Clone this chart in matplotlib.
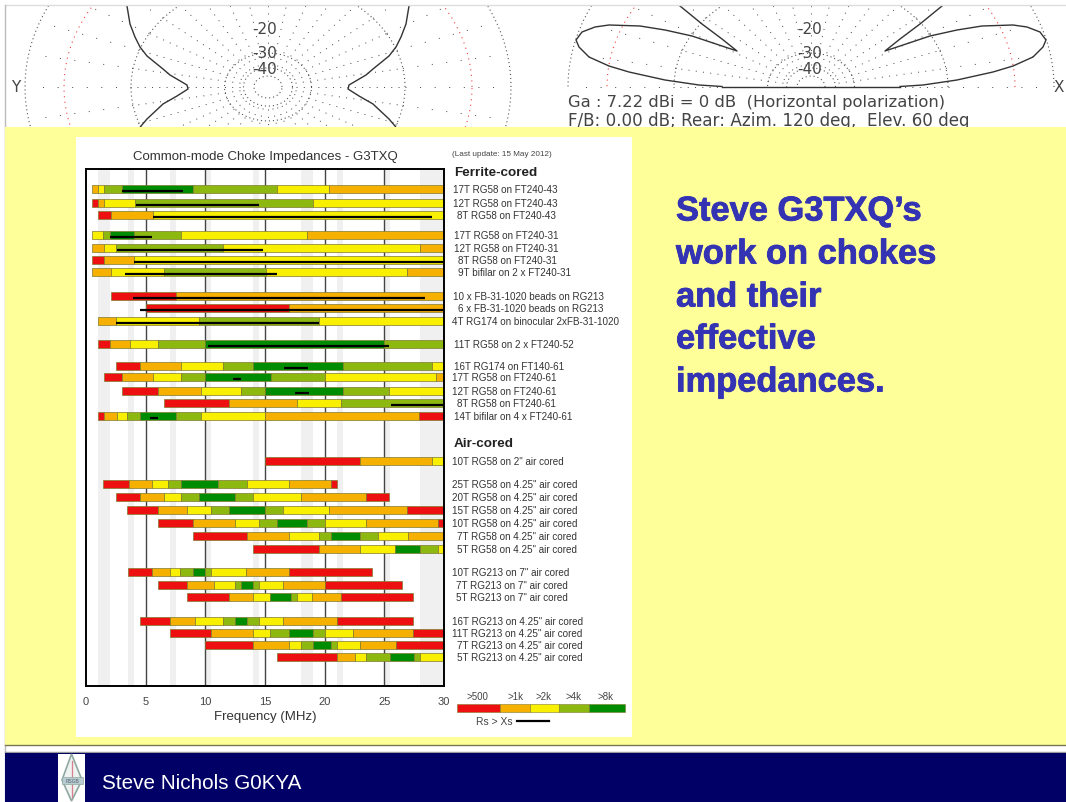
import numpy as np
import matplotlib
matplotlib.use('Agg')
import matplotlib.pyplot as plt
import matplotlib.patheffects as pe
from matplotlib.patches import Rectangle, Polygon

plt.rcParams['font.family'] = ['Liberation Sans', 'DejaVu Sans']

W, H = 1066, 803

# choke chart data
labels = ['17T RG58 on FT240-43', '12T RG58 on FT240-43', '8T RG58 on FT240-43',
          '17T RG58 on FT240-31', '12T RG58 on FT240-31', '8T RG58 on FT240-31', '9T bifilar on 2 x FT240-31',
          '10 x FB-31-1020 beads on RG213', '6 x FB-31-1020 beads on RG213', '4T RG174 on binocular 2xFB-31-1020',
          '11T RG58 on 2 x FT240-52',
          '16T RG174 on FT140-61', '17T RG58 on FT240-61', '12T RG58 on FT240-61', '8T RG58 on FT240-61',
          '14T bifilar on 4 x FT240-61',
          '10T RG58 on 2" air cored',
          '25T RG58 on 4.25" air cored', '20T RG58 on 4.25" air cored', '15T RG58 on 4.25" air cored',
          '10T RG58 on 4.25" air cored', '7T RG58 on 4.25" air cored', '5T RG58 on 4.25" air cored',
          '10T RG213 on 7" air cored', '7T RG213 on 7" air cored', '5T RG213 on 7" air cored',
          '16T RG213 on 4.25" air cored', '11T RG213 on 4.25" air cored', '7T RG213 on 4.25" air cored',
          '5T RG213 on 4.25" air cored']
row_y = [190, 204, 216, 236, 249, 261, 273, 297, 309, 322, 345, 367, 378, 392, 404, 417,
         462, 485, 498, 511, 524, 537, 550, 573, 586, 598, 622, 634, 646, 658]
label_indent = [1, 1, 5, 2, 2, 6, 6, 1, 6, 0, 2, 2, 0, 0, 5, 2, 0, 0, 0, 0, 0, 5, 5, 0, 4, 4, 0, 0, 5, 5]

edges = [[0.5, 1.0, 1.5, 3, 9, 16, 20.4, 30],
         [0.5, 1, 1.5, 4.1, 19, 30],
         [1, 2.1, 5.6, 30],
         [0.5, 1.4, 2, 4, 8, 18.5, 30],
         [0.5, 1.5, 2.5, 11.5, 28, 30],
         [0.5, 1.5, 4, 30],
         [0.5, 2.1, 6.5, 15.1, 26.9, 30],
         [2.1, 7.5, 30],
         [5, 17, 30],
         [1, 2.5, 9.5, 19.5, 30],
         [1, 2, 3.7, 6, 10, 25, 30],
         [2.5, 4.5, 8, 11.5, 14, 21.5, 29, 30],
         [1.5, 3, 5.6, 8, 10, 15.5, 20, 29.3, 30],
         [3, 6, 9.6, 13, 15, 21.5, 25.4, 30],
         [6.5, 12, 17.7, 21.4, 30],
         [1, 1.5, 2.6, 3.4, 4.5, 7.5, 9.6, 15, 27.9, 30],
         [15, 23, 29, 30],
         [1.4, 3.6, 5.5, 6.9, 8, 11.1, 13.5, 17, 20.5, 21],
         [2.5, 4.5, 6.5, 8, 9.5, 12.5, 14, 18, 23.5, 25.4],
         [3.4, 6, 8.5, 10.5, 12, 15, 16.5, 20.4, 26.9, 30],
         [6, 9, 12.5, 14.5, 16, 18.5, 20, 23.5, 29.5, 30],
         [9, 13.5, 17, 19.5, 20.5, 23, 24.5, 27, 30],
         [14, 19.5, 23, 25.9, 28, 29.5, 30],
         [3.5, 5.5, 7, 7.9, 9, 10, 10.5, 13.4, 17, 24],
         [6, 8.5, 10.7, 12.5, 13, 14, 14.5, 16.5, 20, 26.5],
         [8.5, 12, 14, 15.4, 17.2, 17.7, 18.9, 21.4, 27.4],
         [4.5, 7, 9.1, 11.5, 12.5, 13.5, 14.5, 16.5, 21, 27.4],
         [7, 10.5, 14, 15.4, 17, 19, 20, 22.4, 27.4, 30],
         [10, 14, 17, 18, 19, 20.5, 21, 23, 26, 30],
         [16, 21, 22.5, 23.5, 25.5, 27.5, 28, 30]]
levels = ['oylglyo', 'royly', 'roy', 'ylglyo', 'oylyo', 'roy', 'oylyo',
          'ro', 'ro', 'oyly', 'roylgl', 'roylgly', 'roylglyo', 'roylgly', 'royl',
          'roylglyor', 'roy',
          'roylglyor', 'roylglyor', 'roylglyor', 'roylglyor', 'roylglyo', 'roygly',
          'roylglyor', 'roylglyor', 'rogylyor', 'roylglyor', 'roylglyor', 'roylglyor', 'roylgly']
levels[25] = 'roygly' + 'or'
rs_start = [3, 4.2, 5.6, 2, 2.6, 4, 3.3, 3.9, 4.5, 2.5, 10.2, 16.6, 12.3, 17.5, 25.6, 5.4]
rs_end = [8.1, 14.5, 29, 5.5, 14.8, 30, 16, 28.4, 30, 19.5, 25.4, 18.6, 13, 18.7, 30, 6]
band_start = [1.0, 3.5, 7.0, 10.0, 14.0, 18.0, 21.0, 25.0, 28.0]
band_end = [2.0, 4.0, 7.5, 10.5, 14.5, 19.0, 21.5, 25.5, 30.0]
freq_ticks = [0, 5, 10, 15, 20, 25, 30]

colors = {'r': '#EE1010', 'o': '#F5B000', 'y': '#F8F000', 'l': '#8DB810', 'g': '#008C00'}
legend_text = ['>500', '>1k', '>2k', '>4k', '>8k']
legend_x = [477, 515, 544, 574, 606]
legend_levels = 'roylg'
legend_edges = [457, 500, 530, 559, 589, 625]

# polar plots at the top of the slide, in slide pixels
ring_rx = [14, 24.5, 43.5, 137, 243]
red_ring_rx = 204
squash = 0.78
left_centre = (268, 88)
right_centre = (811, 88)
left_lobe_dx = [141, 138, 133, 128, 121, 105, 98, 81, 80, 91, 105, 121, 127, 136]
left_lobe_y = [7, 25, 38, 48, 57, 70, 76, 86, 90, 97, 105, 120, 127, 140]
right_lobe_dx = [89, 112, 146, 182, 202, 222, 232, 235, 229, 216, 202, 171, 146, 119, 92, 74, 89, 109, 131]
right_lobe_y = [87.5, 86, 81, 73, 67, 58, 48, 41, 33, 28, 26, 27, 31, 37, 46, 52, 40, 25, 7]
db_text = ['-20', '-30', '-40']
db_y = [29, 53, 69]


def add_rings(ax, c, upper_only, text_shift):
    t = np.linspace(0, np.pi if upper_only else 2 * np.pi, 400)
    for rx in ring_rx:
        ax.plot(c[0] + rx * np.cos(t), c[1] - rx * squash * np.sin(t), color='#555555', lw=0.8,
                ls=(0, (1, 2.6)), zorder=1)
    ax.plot(c[0] + red_ring_rx * np.cos(t), c[1] - red_ring_rx * squash * np.sin(t), color='#F04040',
            lw=0.8, ls=(0, (1, 4)), zorder=1)
    for a in np.arange(0, 360, 10):
        if upper_only and a > 180:
            continue
        a = np.radians(a)
        # dots are closer together inside the -10 ring
        ax.plot([c[0] + 28 * np.cos(a), c[0] + 137 * np.cos(a)],
                [c[1] - 28 * squash * np.sin(a), c[1] - 137 * squash * np.sin(a)],
                color='#444444', lw=0.7, ls=(0, (1, 6.5)), zorder=1)
        ax.plot([c[0] + 137 * np.cos(a), c[0] + 228 * np.cos(a)],
                [c[1] - 137 * squash * np.sin(a), c[1] - 228 * squash * np.sin(a)],
                color='#444444', lw=0.7, ls=(0, (1, 14)), zorder=1)
    for s, y in zip(db_text, db_y):
        ax.text(c[0] + text_shift, y, s, fontsize=11, color='#444444', ha='center', va='center', zorder=2,
                family='DejaVu Sans')


fig = plt.figure(figsize=(W / 100, H / 100), dpi=100, facecolor='white')

bg = fig.add_axes([0, 0, 1, 1], zorder=0)
bg.set_xlim(0, W)
bg.set_ylim(H, 0)
bg.axis('off')

add_rings(bg, left_centre, False, -3)
add_rings(bg, right_centre, True, -1)
for sign in (-1, 1):
    bg.plot(left_centre[0] + sign * np.array(left_lobe_dx), left_lobe_y, color='#333333', lw=1, zorder=2)
    bg.plot(right_centre[0] + sign * np.array(right_lobe_dx), right_lobe_y, color='#333333', lw=1, zorder=2)
bg.plot([right_centre[0] - right_lobe_dx[0], right_centre[0] + right_lobe_dx[0]], [88, 88], color='#333333',
        lw=1, zorder=2)
bg.text(16, 88, 'Y', fontsize=11, color='#444444', ha='center', va='center', zorder=2, family='DejaVu Sans')
bg.text(1059, 88, 'X', fontsize=11, color='#444444', ha='center', va='center', zorder=2, family='DejaVu Sans')
bg.text(568, 102, 'Ga : 7.22 dBi = 0 dB  (Horizontal polarization)', fontsize=11.8, color='#444444',
        va='center', zorder=2, family='DejaVu Sans')
bg.text(568, 121, 'F/B: 0.00 dB; Rear: Azim. 120 deg,  Elev. 60 deg', fontsize=12.1, color='#444444',
        va='center', zorder=2, family='DejaVu Sans')

# slide furniture
bg.add_patch(Rectangle((0, 0), W, 6, fc='white', ec='none', zorder=3))
bg.plot([5, W], [6, 6], color='#DDDDDD', lw=1, zorder=3)
bg.add_patch(Rectangle((0, 0), 5, H, fc='white', ec='none', zorder=3))
bg.plot([5, 5], [6, H], color='#BBBBBB', lw=1, zorder=3)
bg.add_patch(Rectangle((5, 127.5), W - 5, 618, fc='#FFFF99', ec='none', zorder=3))
bg.plot([5, W], [746, 746], color='#777755', lw=1, zorder=3)
bg.plot([5, W], [753, 753], color='#999999', lw=1, zorder=3)
bg.add_patch(Rectangle((5, 754), W - 5, 49, fc='#000066', ec='none', zorder=3))
bg.add_patch(Rectangle((76, 138), 556, 600, fc='white', ec='none', zorder=4))

# logo
bg.add_patch(Rectangle((58, 755), 27, 48, fc='white', ec='none', zorder=4))
bg.add_patch(Polygon([(71.5, 755), (82, 781), (71.5, 802), (62, 781)], closed=True, fc='#EEF2F0', ec='#8FA8A2',
                     lw=1.2, zorder=5))
bg.plot([71.5, 71.5], [762, 798], color='#D88090', lw=0.9, zorder=5)
bg.add_patch(Rectangle((61.5, 778), 21, 6.5, fc='#B8CCD0', ec='#8FA8A2', lw=0.5, zorder=5))
bg.text(72, 781.2, 'RSGB', fontsize=3.5, color='#506070', ha='center', va='center', zorder=6)

bg.text(102, 784, 'Steve Nichols G0KYA', fontsize=14.9, color='white', va='center', zorder=6)

for s, y in zip(["Steve G3TXQ\u2019s", 'work on chokes', 'and their', 'effective', 'impedances.'],
                [213, 256, 299, 341, 384]):
    t = bg.text(676, y, s, fontsize=24.8, fontweight='bold', color='#3333B3', va='center', zorder=6)
    t.set_path_effects([pe.withStroke(linewidth=0.6, foreground='#3333B3')])

# the choke chart
ax = fig.add_axes([86 / W, 1 - 687 / H, (444 - 86) / W, (687 - 170) / H], zorder=1)
ax.set_xlim(0, 30)
ax.set_ylim(687, 170)
for s, e in zip(band_start, band_end):
    ax.axvspan(s, e, color='#F0F0F0', lw=0, zorder=0)
ax.vlines(freq_ticks[1:-1], 170, 687, color='#444444', lw=1, zorder=1)

for y, ed, lv in zip(row_y, edges, levels):
    ed = np.array(ed)
    ax.barh([y] * (len(ed) - 1), np.diff(ed), left=ed[:-1], height=8, color=[colors[c] for c in lv],
            edgecolor='#807A30', linewidth=0.5, zorder=2)

ax.hlines(np.array(row_y[:len(rs_start)]) + 2, rs_start, rs_end, color='black', lw=1.6, zorder=3)

for y, s, ind in zip(row_y, labels, label_indent):
    ax.text(30 + (8 + ind) / 11.93, y, s, fontsize=7.1, color='#333333', va='center', clip_on=False)

ax.set_xticks(freq_ticks)
ax.set_yticks([])
ax.tick_params(axis='x', length=0, labelsize=8, labelcolor='#444444', pad=7)
ax.set_xlabel('Frequency (MHz)', fontsize=9.5, color='#333333', labelpad=3)
for sp in ax.spines.values():
    sp.set_linewidth(1.4)
ax.set_title('Common-mode Choke Impedances - G3TXQ', fontsize=9.5, color='#333333', pad=7)

ax.text(30 + 8 / 11.93, 155, '(Last update: 15 May 2012)', fontsize=5.9, color='#444444', va='center', clip_on=False)
ax.text(30 + 10 / 11.93, 173, 'Ferrite-cored', fontsize=9.7, fontweight='bold', color='#222222', va='center',
        clip_on=False)
ax.text(30 + 10 / 11.93, 444, 'Air-cored', fontsize=9.7, fontweight='bold', color='#222222', va='center',
        clip_on=False)

# legend strip
for i, c in enumerate(legend_levels):
    bg.add_patch(Rectangle((legend_edges[i], 705), legend_edges[i + 1] - legend_edges[i], 8, fc=colors[c],
                           ec='#807A30', lw=0.4, zorder=6))
    bg.text(legend_x[i], 697, legend_text[i], fontsize=7, color='#444444', ha='center', va='center', zorder=6)
bg.text(494, 722, 'Rs > Xs', fontsize=7.4, color='#444444', ha='center', va='center', zorder=6)
bg.plot([517, 549], [722, 722], color='black', lw=1.6, zorder=6)

fig.savefig('out.png', dpi=100)
